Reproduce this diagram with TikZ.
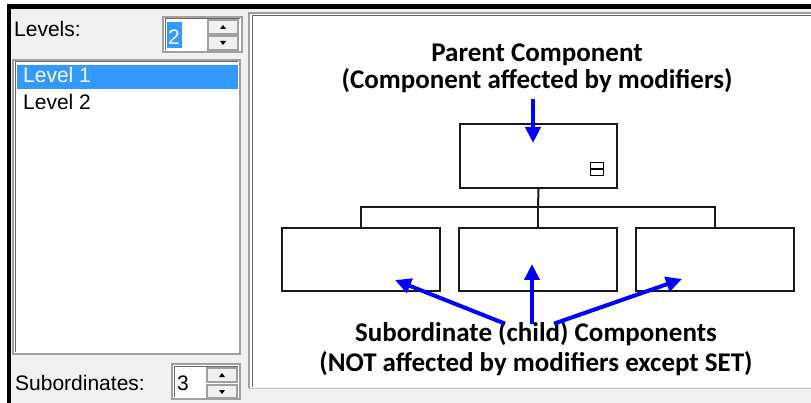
\documentclass[tikz,border=0pt]{standalone}
\usepackage{fontspec}
\usepackage{xcolor}
\usepackage{tikz}
\usetikzlibrary{arrows.meta, positioning, calc}
\setmainfont{Liberation Sans}
\newfontfamily\notefont{Carlito}
\definecolor{winbg}{HTML}{F0F0F0}
\definecolor{winsel}{HTML}{3399FF}
\definecolor{winedge}{HTML}{A0A0A0}
\definecolor{windark}{HTML}{696969}
\definecolor{pureblue}{RGB}{0,0,255}

\begin{document}
\begin{tikzpicture}[
  x=1pt, y=-1pt,
  ui/.style={font=\fontsize{21}{24}\selectfont, inner sep=0pt, anchor=base west},
  note/.style={font=\notefont\bfseries\fontsize{27}{27}\selectfont, align=center, inner sep=0pt},
  field/.style={fill=white, draw=winedge, line width=1.5pt},
  spinbtn/.style={fill=winbg, draw=winedge, line width=1.2pt},
  box/.style={rectangle, draw=black!90, line width=2pt, fill=white,
    minimum width=158pt, minimum height=63pt, inner sep=0pt},
  wire/.style={draw=black!90, line width=2pt},
  arrow/.style={-{Triangle[length=16pt, width=15pt]}, line width=4pt, pureblue}
]
\useasboundingbox (0,0) rectangle (811,403);
\fill[winbg] (0,0) rectangle (811,403);
\fill[white] (0,0) rectangle (811,4);
\fill[white] (0,0) rectangle (7,403);
\fill[black] (7,4) rectangle (811,9);
\fill[black] (7,4) rectangle (11,403);

% left panel
\node[ui] (levlbl) at (14,37) {Levels:};
\draw[field] (163,17) rectangle (242,52);
\draw[windark, line width=1pt] (165,50) |- (240,19);
\fill[winsel] (167,22) rectangle (182,48);
\node[ui, white] (levval) at (168,45) {2};
\draw[spinbtn] (208,20) rectangle (238,34);
\draw[spinbtn] (208,36) rectangle (238,50);
\fill (220,29) -- (226,29) -- (223,25) -- cycle;
\fill (220,41) -- (226,41) -- (223,45) -- cycle;

\draw[field] (13,60) rectangle (240,354);
\draw[windark, line width=1pt] (15,352) |- (238,62);
\fill[winsel] (17,65) rectangle (238,89);
\node[ui, white] (lev1) at (23,83) {Level 1};
\node[ui] (lev2) at (23,110) {Level 2};

\node[ui] (sublbl) at (15,390) {Subordinates:};
\draw[field] (172,364) rectangle (240,399);
\draw[windark, line width=1pt] (174,397) |- (238,366);
\node[ui] (subval) at (177,390) {3};
\draw[spinbtn] (207,368) rectangle (237,382);
\draw[spinbtn] (207,385) rectangle (237,398);
\fill (219,377) -- (225,377) -- (222,373) -- cycle;
\fill (219,390) -- (225,390) -- (222,394) -- cycle;

% right panel
\fill[white] (248,12) rectangle (811,387);
\draw[winedge, line width=2pt] (249,388) -- (249,13) -- (811,13);
\draw[windark, line width=1pt] (252,387) -- (252,16) -- (811,16);
\draw[winedge!60, line width=1pt] (249,388) -- (811,388);

% tree
\node[box, minimum width=157pt, minimum height=64pt] (parent) at (538.5,156) {};
\node[draw, line width=1.3pt, minimum size=13pt, inner sep=0pt] (collapse) at (597,169) {};
\draw[line width=1.3pt] (collapse.west) -- (collapse.east);
\node[box] (childA) at (361,259.5) {};
\node[box] (childB) at (538,259.5) {};
\node[box] (childC) at (715,259.5) {};
\coordinate (bus) at (538,207);
\draw[wire] (parent.south) -- (bus);
\draw[wire] (childA.north) |- (bus) -| (childC.north);
\draw[wire] (bus) -- (childB.north);

% labels and pointers
\node[note] (partxt) at (537,68) {Parent Component\\(Component affected by modifiers)};
\node[note, font=\notefont\bfseries\fontsize{27}{30}\selectfont] (subtxt) at (536,349)
  {Subordinate (child) Components\\(NOT affected by modifiers except SET)};
\coordinate (tipP) at (533,143);
\coordinate (tipA) at (395,280);
\coordinate (tipB) at (532,264);
\coordinate (tipC) at (682,279);
\draw[arrow] (partxt.south -| tipP) ++(0,6) -- (tipP);
\draw[arrow] ([xshift=-31pt, yshift=-2pt]subtxt.north) -- (tipA);
\draw[arrow] ([xshift=-4pt, yshift=-2pt]subtxt.north) -- (tipB);
\draw[arrow] ([xshift=18pt, yshift=-2pt]subtxt.north) -- (tipC);
\end{tikzpicture}
\end{document}
